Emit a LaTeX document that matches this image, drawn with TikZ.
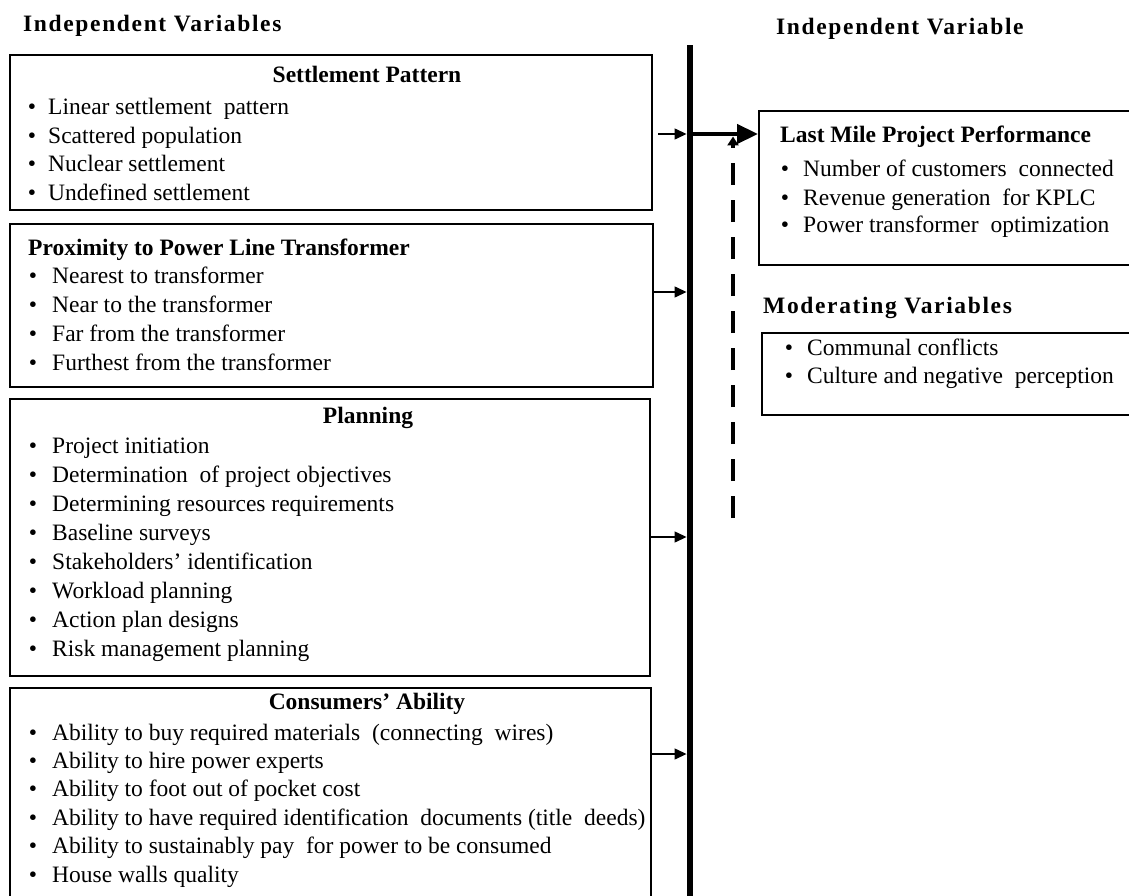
\documentclass[tikz,border=0pt]{standalone}
\usepackage{fontspec}
\setmainfont{Liberation Serif}
\usetikzlibrary{arrows.meta}
\newcommand\fs{\fontsize{23.5}{28}\selectfont}
\newcommand\hs{\fontsize{23.5}{28}\selectfont\bfseries\addfontfeature{LetterSpace=7}}
\tikzset{
  box/.style={draw=black, line width=1.6pt, inner sep=0pt, anchor=north west},
  txt/.style={anchor=base west, inner sep=0pt, font=\fs},
  ttl/.style={anchor=base, inner sep=0pt, font=\fs\bfseries},
  ttlw/.style={anchor=base west, inner sep=0pt, font=\fs\bfseries},
  head/.style={anchor=base west, inner sep=0pt, font=\hs},
  bul/.style={anchor=base, inner sep=0pt, font=\fs},
  arr/.style={line width=1.3pt, -{Triangle[length=12pt,width=11pt]}},
  bigarr/.style={line width=4.5pt, -{Triangle[length=21pt,width=19pt]}},
  dasharr/.style={line width=4pt, dash pattern=on 22pt off 15pt, -{Triangle[length=9pt,width=11pt]}},
}
\begin{document}
\begin{tikzpicture}[x=1pt,y=-1pt]
\useasboundingbox (0,0) rectangle (1129,896);
\clip (0,0) rectangle (1129,896);
\fill[white] (0,0) rectangle (1129,896);

% headings
\node[head] (h1) at (23,32) {Independent Variables};
\node[head] (h2) at (776,35) {Independent Variable};

% box 1
\node[box, minimum width=642pt, minimum height=155pt] (b1) at (9,54) {};
\node[ttl] (t1) at (367,83) {Settlement Pattern};
\foreach \t [count=\i] in {Linear settlement\ \ pattern, Scattered population, Nuclear settlement, Undefined settlement}{
  \node[bul] (b1d\i) at (32,115+28.5*\i-28.5) {\textbullet};
  \node[txt] (b1t\i) at (48,115+28.5*\i-28.5) {\t};
}

% box 2
\node[box, minimum width=643pt, minimum height=163pt] (b2) at (9,223) {};
\node[ttlw] (t2) at (28,255) {Proximity to Power Line Transformer};
\foreach \t [count=\i] in {Nearest to transformer, Near to the transformer, Far from the transformer, Furthest from the transformer}{
  \node[bul] (b2d\i) at (33,283+29*\i-29) {\textbullet};
  \node[txt] (b2t\i) at (52,283+29*\i-29) {\t};
}

% box 3
\node[box, minimum width=640pt, minimum height=277pt] (b3) at (9,398) {};
\node[ttl] (t3) at (368,423) {Planning};
\foreach \t [count=\i] in {Project initiation, Determination\ \ of project objectives, Determining resources requirements, Baseline surveys, Stakeholders’ identification, Workload planning, Action plan designs, Risk management planning}{
  \node[bul] (b3d\i) at (33,453+29.1*\i-29.1) {\textbullet};
  \node[txt] (b3t\i) at (52,453+29.1*\i-29.1) {\t};
}

% box 4
\node[box, minimum width=641pt, minimum height=240pt] (b4) at (9,687) {};
\node[ttl] (t4) at (367,709) {Consumers’ Ability};
\foreach \t [count=\i] in {Ability to buy required materials\ \ (connecting\ \ wires), Ability to hire power experts, Ability to foot out of pocket cost, Ability to have required identification\ \ documents (title\ \ deeds), Ability to sustainably pay\ \ for power to be consumed, House walls quality}{
  \node[bul] (b4d\i) at (33,740+28.4*\i-28.4) {\textbullet};
  \node[txt] (b4t\i) at (52,740+28.4*\i-28.4) {\t};
}

% right: dependent
\node[box, minimum width=380pt, minimum height=154pt] (lm) at (758,110) {};
\node[ttlw] (tlm) at (780,143) {Last Mile Project Performance};
\foreach \t [count=\i] in {Number of customers\ \ connected, Revenue generation\ \ for KPLC, Power transformer\ \ optimization}{
  \node[bul] (lmd\i) at (785,177+28*\i-28) {\textbullet};
  \node[txt] (lmt\i) at (803,177+28*\i-28) {\t};
}

% moderating
\node[head] (hm) at (763,313) {Moderating Variables};
\node[box, minimum width=380pt, minimum height=82pt] (mv) at (761,332) {};
\foreach \t [count=\i] in {Communal conflicts, Culture and negative\ \ perception}{
  \node[bul] (mvd\i) at (789,355+28*\i-28) {\textbullet};
  \node[txt] (mvt\i) at (807,355+28*\i-28) {\t};
}

% vertical bar
\node[fill=black, inner sep=0pt, minimum width=6.5pt, minimum height=870pt, anchor=north] (bar) at (690,45) {};

% connectors
\coordinate (s1) at (658,134);
\draw[arr] (s1) -- (bar.west |- s1);
\draw[arr] (b2.east |- 0,292) -- (bar.west |- 0,292);
\draw[arr] (b3.east |- 0,537) -- (bar.west |- 0,537);
\draw[arr] (b4.east |- 0,754) -- (bar.west |- 0,754);
\draw[bigarr] (bar.east |- s1) -- (lm.west |- s1);
\coordinate (dbot) at (733,518);
\coordinate (dtop) at (733,136.5);
\draw[dasharr] (dbot) -- (dtop);
\end{tikzpicture}
\end{document}
